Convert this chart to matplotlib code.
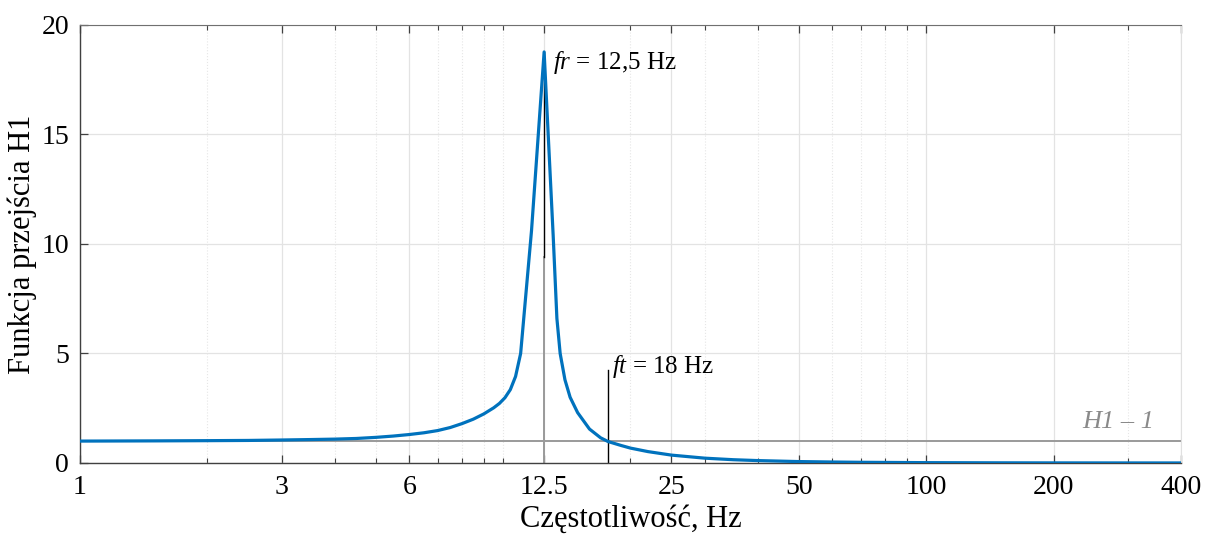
import numpy as np
import matplotlib
matplotlib.use('Agg')
from matplotlib import pyplot as plt
from matplotlib.ticker import FixedLocator, LogLocator, NullFormatter

# transmissibility curve
freq = [1, 1.5, 2, 2.5, 3, 3.5, 4, 4.5, 5, 5.5, 6, 6.5, 7, 7.5, 8, 8.5, 9, 9.5,
        9.8, 10.1, 10.4, 10.7, 11.0, 11.67, 12.5, 13.13, 13.4, 13.64, 14.0, 14.4, 15,
        16, 17, 17.7, 19, 20, 22, 25, 30, 35, 40, 50, 60, 70, 100, 150, 200, 300, 400]
h1 = [1.00, 1.01, 1.02, 1.03, 1.05, 1.07, 1.09, 1.12, 1.17, 1.23, 1.30, 1.38, 1.48, 1.62,
      1.80, 2.00, 2.24, 2.52, 2.72, 2.98, 3.35, 3.95, 5.0, 10.6, 18.77, 10.4, 6.6, 5.0, 3.8,
      3.0, 2.3, 1.55, 1.15, 0.98, 0.8, 0.68, 0.52, 0.36, 0.22, 0.15, 0.11, 0.065, 0.045,
      0.032, 0.016, 0.008, 0.005, 0.003, 0.002]

xticks = [1, 3, 6, 12.5, 25, 50, 100, 200, 400]
xticklabels = ['1', '3', '6', '12.5', '25', '50', '100', '200', '400']
yticks = [0, 5, 10, 15, 20]

f_res = 12.5
f_tr = 17.7

plt.rcParams['font.family'] = ['Liberation Serif', 'DejaVu Serif']
plt.rcParams['mathtext.fontset'] = 'custom'
plt.rcParams['mathtext.rm'] = 'Liberation Serif'
plt.rcParams['mathtext.it'] = 'Liberation Serif:italic'

fig = plt.figure(figsize=(12.14, 5.36), dpi=100)
ax = fig.add_axes([0.0659, 0.1362, 0.9069, 0.8172])

ax.set_xscale('log')
ax.set_xlim(1, 400)
ax.set_ylim(0, 20)

ax.xaxis.set_major_locator(FixedLocator(xticks))
ax.set_xticklabels(xticklabels)
ax.xaxis.set_minor_locator(LogLocator(base=10, subs=np.arange(1, 10), numticks=20))
ax.xaxis.set_minor_formatter(NullFormatter())
ax.set_yticks(yticks)

ax.grid(True, which='major', color='#e3e3e3', linewidth=0.9)
ax.grid(True, which='minor', axis='x', color='#e6e6e6', linewidth=0.8, linestyle=':')
ax.set_axisbelow(True)

ax.tick_params(which='both', direction='in', top=True, right=False,
               color='#404040', labelsize=20)
ax.tick_params(axis='x', pad=9)
ax.tick_params(axis='y', pad=8)
ax.tick_params(which='major', length=6, width=0.9)
ax.tick_params(which='minor', length=3.5, width=0.8)

for s in ['left', 'bottom']:
    ax.spines[s].set_color('#404040')
    ax.spines[s].set_linewidth(1.0)
ax.spines['top'].set_color('#707070')
ax.spines['right'].set_color('#e0e0e0')

# reference line H1 = 1
ax.axhline(1, color='#9a9a9a', linewidth=1.4, zorder=2)
ax.text(345, 1.35, 'H1 – 1', fontsize=19, style='italic', color='#8a8a8a',
        ha='right', va='bottom')

# resonance and transmission markers
ax.plot([f_res, f_res], [0, 9.4], color='#9a9a9a', linewidth=1.4, zorder=2)
ax.plot([f_res, f_res], [9.4, 18.77], color='black', linewidth=1.0, zorder=2)
ax.plot([f_tr, f_tr], [0, 4.25], color='black', linewidth=1.0, zorder=2)

ax.plot(freq, h1, color='#0072BD', linewidth=2.3, zorder=3)

ax.text(13.1, 18.3, r'$\mathit{fr}$ = 12,5 Hz', fontsize=18, va='center', ha='left')
ax.text(18.1, 4.4, r'$\mathit{ft}$ = 18 Hz', fontsize=18, va='center', ha='left')

ax.set_xlabel('Częstotliwość, Hz', fontsize=22, labelpad=3)
ax.set_ylabel('Funkcja przejścia H1', fontsize=22, labelpad=3)

plt.savefig('out.png', dpi=100)
